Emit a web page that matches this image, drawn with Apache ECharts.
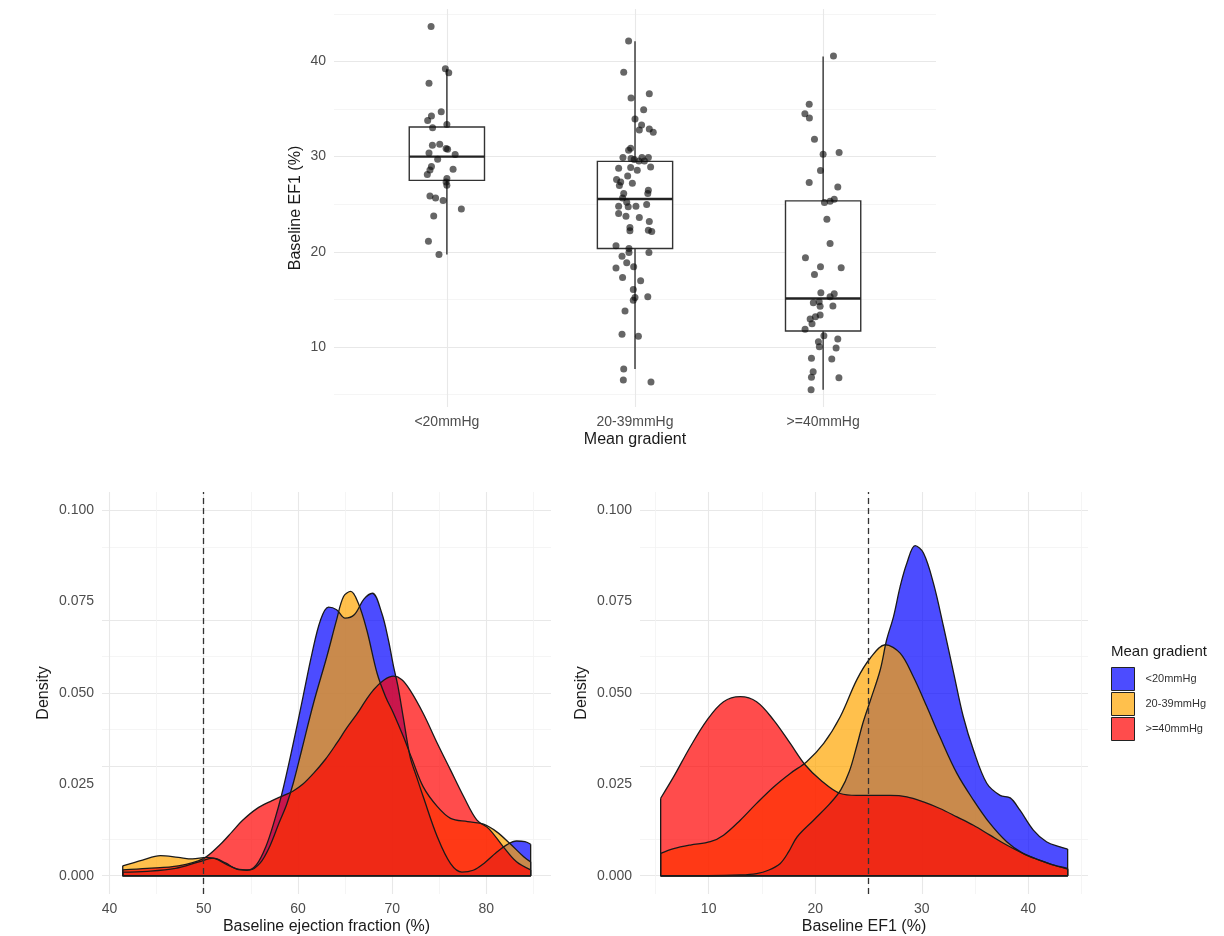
<!DOCTYPE html>
<html>
<head>
<meta charset="utf-8">
<title>Baseline EF by mean gradient</title>
<script src="https://cdn.jsdelivr.net/npm/echarts@6/dist/echarts.min.js"></script>
<style>
  html, body { margin: 0; padding: 0; background: #fff; }
  #chart { width: 1224px; height: 936px; }
</style>
</head>
<body>
<div id="chart"></div>
<script>
// ---- groups ----
const groupLabels = ['<20mmHg', '20-39mmHg', '>=40mmHg'];
const groupFills = ['rgba(0,0,255,0.7)', 'rgba(255,165,0,0.7)', 'rgba(255,0,0,0.7)'];

// ---- boxplot summary (Baseline EF1, %) ----
const whiskerLow  = [19.72, 7.7, 5.5];
const quart1      = [27.5, 20.35, 11.68];
const medians     = [30.0, 25.55, 15.1];
const quart3      = [33.1, 29.5, 25.35];
const whiskerHigh = [39.23, 42.1, 40.5];

// ---- individual patients: [jitter offset, EF1 %] ----
const ptsLow = [
  [-0.084, 43.67], [-0.008, 39.23], [0.010, 38.8], [-0.095, 37.7], [-0.030, 34.7],
  [-0.082, 34.26], [-0.102, 33.78], [0.000, 33.36], [-0.076, 33.04], [-0.077, 31.19],
  [-0.038, 31.29], [-0.004, 30.84], [0.004, 30.77], [-0.095, 30.38], [0.044, 30.21],
  [-0.049, 29.72], [-0.082, 28.95], [-0.090, 28.6], [0.033, 28.67], [-0.104, 28.11],
  [0.000, 27.7], [-0.004, 27.34], [0.000, 27.0], [-0.090, 25.87], [-0.060, 25.66],
  [-0.020, 25.39], [0.077, 24.5], [-0.070, 23.77], [-0.098, 21.12], [-0.042, 19.72]
];
const ptsMid = [
  [-0.034, 42.13], [-0.060, 38.85], [0.076, 36.61], [-0.021, 36.15], [0.046, 34.93],
  [0.000, 33.95], [0.035, 33.32], [0.023, 32.8], [0.076, 32.9], [0.097, 32.55],
  [-0.023, 30.87], [-0.034, 30.66], [-0.064, 29.9], [-0.021, 29.79], [-0.004, 29.69],
  [0.037, 29.9], [0.071, 29.9], [0.050, 29.54], [0.021, 29.54], [-0.087, 28.78],
  [-0.023, 28.85], [0.012, 28.57], [0.083, 28.91], [-0.039, 27.97], [-0.098, 27.59],
  [-0.076, 27.34], [-0.083, 26.96], [-0.014, 27.2], [0.071, 26.47], [0.068, 26.12],
  [-0.060, 26.12], [-0.066, 25.66], [-0.044, 25.21], [-0.087, 24.79], [-0.036, 24.72],
  [0.005, 24.79], [0.062, 24.97],
  [-0.087, 24.02], [-0.048, 23.74], [0.023, 23.6], [0.076, 23.18], [-0.027, 22.55],
  [-0.027, 22.2], [0.071, 22.27], [0.089, 22.13], [-0.101, 20.63], [-0.032, 20.35],
  [-0.032, 19.93], [0.074, 19.93], [-0.069, 19.54], [-0.044, 18.84], [-0.101, 18.29],
  [-0.007, 18.43], [-0.066, 17.31], [0.030, 16.96], [-0.009, 16.05], [0.000, 15.21],
  [-0.009, 14.9], [0.068, 15.28], [-0.053, 13.78], [-0.069, 11.33], [0.018, 11.12],
  [-0.060, 7.69], [-0.062, 6.54], [0.085, 6.33]
];
const ptsHigh = [
  [0.055, 40.56], [-0.074, 35.49], [-0.097, 34.51], [-0.073, 34.05], [-0.046, 31.82],
  [0.000, 30.24], [0.085, 30.42], [-0.014, 28.53], [-0.074, 27.27], [0.078, 26.81],
  [0.007, 25.17], [0.037, 25.31], [0.059, 25.52], [0.020, 23.43], [0.037, 20.88],
  [-0.094, 19.37], [-0.014, 18.43], [0.096, 18.32], [-0.046, 17.62], [-0.012, 15.7],
  [0.059, 15.59], [0.037, 15.28], [-0.052, 14.65], [-0.021, 14.76], [-0.016, 14.27],
  [0.052, 14.3], [-0.016, 13.36], [-0.041, 13.18], [-0.069, 12.94], [-0.059, 12.45],
  [-0.096, 11.86], [0.004, 11.19], [0.078, 10.84], [-0.025, 10.56], [-0.020, 10.04],
  [0.069, 9.9], [-0.062, 8.81], [0.046, 8.74], [-0.053, 7.41], [-0.062, 6.82],
  [0.084, 6.78], [-0.064, 5.52]
];

// ---- density estimates: Baseline ejection fraction (%) ----
const efLow = [
  [41.4, 0.001], [44, 0.0012], [47, 0.002], [49.5, 0.0038], [51, 0.0048], [52.3, 0.0035],
  [53.5, 0.0018], [54.6, 0.0015], [55.6, 0.003], [56.6, 0.008], [57.5, 0.015], [58.3, 0.0225],
  [59.35, 0.0344], [60.4, 0.0472], [61.5, 0.0609], [62.4, 0.070], [63.25, 0.0735], [64.1, 0.0728],
  [65.0, 0.0705], [66.0, 0.0715], [67.0, 0.0757], [67.9, 0.0773], [68.9, 0.0718], [69.6, 0.0645],
  [70.15, 0.0572], [70.6, 0.052], [71.2, 0.043], [71.9, 0.0326], [72.6, 0.027], [73.3, 0.0216],
  [74.8, 0.0106], [76.2, 0.0033], [77.4, 0.001], [78.6, 0.0015], [79.8, 0.0035], [81, 0.0062],
  [82.2, 0.0085], [83.2, 0.0095], [84.1, 0.0093], [84.7, 0.0086]
];
const efMid = [
  [41.4, 0.0027], [43.5, 0.0043], [45.4, 0.0055], [47.3, 0.005], [48.8, 0.0046], [50.3, 0.005],
  [51.3, 0.0046], [52.3, 0.0032], [53.5, 0.0019], [54.9, 0.0016], [56, 0.0035], [57, 0.008],
  [58, 0.0145], [58.8, 0.0195], [59.5, 0.0253], [60.4, 0.0344], [61.65, 0.0472], [63.07, 0.060],
  [64.1, 0.070], [64.84, 0.0764], [65.6, 0.0778], [66.4, 0.0746], [67.3, 0.0673], [68.4, 0.0554],
  [69.3, 0.049], [70.15, 0.0444], [71.2, 0.038], [72.1, 0.032], [73.3, 0.0243], [74.8, 0.0189],
  [76.2, 0.0157], [78, 0.0148], [79.7, 0.0141], [81.1, 0.012], [82.5, 0.0088], [83.96, 0.0052],
  [84.7, 0.0038]
];
const efHigh = [
  [41.4, 0.0016], [44, 0.002], [47.3, 0.0027], [49.9, 0.0046], [51.8, 0.0087], [53, 0.012],
  [54.1, 0.0151], [55.6, 0.0183], [57.2, 0.0205], [58.5, 0.022], [59.5, 0.0232], [60.5, 0.025],
  [61.65, 0.028], [62.9, 0.0318], [64.1, 0.0362], [65.2, 0.0405], [66.3, 0.0444], [67.2, 0.048],
  [68, 0.0508], [69.1, 0.0535], [70.15, 0.0546], [71, 0.0537], [71.9, 0.0508], [73.3, 0.0444],
  [74.8, 0.0362], [76.2, 0.0289], [77.6, 0.0216], [79, 0.0152], [80.25, 0.0129], [81.8, 0.0079],
  [83.2, 0.0038], [84.7, 0.0016]
];

// ---- density estimates: Baseline EF1 (%) ----
const ef1Low = [
  [5.5, 0.0], [10, 0.0], [13, 0.0002], [14.5, 0.0006], [15.6, 0.0015], [16.7, 0.0033],
  [17.5, 0.0065], [18.3, 0.0106], [19.85, 0.0152], [21.4, 0.0198], [22.4, 0.0235], [23.2, 0.0285],
  [23.9, 0.0355], [24.5, 0.042], [25.16, 0.0478], [26.1, 0.0563], [26.7, 0.0645], [27.35, 0.0709],
  [27.97, 0.0791], [28.6, 0.0855], [29.38, 0.0903], [30.16, 0.0883], [31.1, 0.080], [32.04, 0.0682],
  [33, 0.0554], [33.9, 0.0435], [34.85, 0.0344], [36.1, 0.0253], [37.35, 0.022], [38.3, 0.0213],
  [39.2, 0.018], [40.47, 0.0125], [41.7, 0.0093], [42.97, 0.0079], [43.69, 0.0073]
];
const ef1Mid = [
  [5.5, 0.0061], [6.72, 0.0074], [8.28, 0.0084], [10.16, 0.0093], [11.4, 0.0111], [12.97, 0.0152],
  [14.5, 0.0198], [16.1, 0.0243], [17.66, 0.028], [19.2, 0.0312], [20.8, 0.0362], [22.35, 0.0435],
  [23.9, 0.0536], [25.16, 0.0595], [26.57, 0.0632], [27.97, 0.0609], [29.2, 0.0545], [30.47, 0.0463],
  [31.7, 0.038], [33.3, 0.028], [34.85, 0.0207], [36.4, 0.0143], [37.97, 0.0093], [39.5, 0.0061],
  [41.1, 0.0042], [42.5, 0.0028], [43.69, 0.002]
];
const ef1High = [
  [5.5, 0.0212], [6.72, 0.0271], [8.28, 0.0353], [9.85, 0.0426], [11.4, 0.0476], [12.97, 0.049],
  [14.5, 0.0476], [16.1, 0.0426], [17.66, 0.0362], [19.07, 0.0303], [20.5, 0.0262], [22.35, 0.0225],
  [23.9, 0.022], [25.5, 0.022], [27.03, 0.022], [28.6, 0.0216], [30.16, 0.0202], [31.7, 0.0184],
  [33.3, 0.0161], [34.85, 0.0138], [36.4, 0.0111], [37.97, 0.0084], [39.5, 0.0061], [41.1, 0.0042],
  [42.5, 0.0028], [43.69, 0.0018]
];

// ---- reference cut-offs ----
const efCutoff = 50;
const ef1Cutoff = 25;

// ---- axis ticks / grid positions ----
const topTicksY = [10, 20, 30, 40];
const topMinorY = [5, 15, 25, 35, 45];
const topTicksX = [1, 2, 3];
const efTicks = [40, 50, 60, 70, 80];
const efMinor = [45, 55, 65, 75, 85];
const ef1Ticks = [10, 20, 30, 40];
const ef1Minor = [5, 15, 25, 35, 45];
const densTicks = [0, 0.025, 0.05, 0.075, 0.1];
const densMinor = [0.0125, 0.0375, 0.0625, 0.0875];

// ---------------------------------------------------------------
const FONT = "'Liberation Sans', Arial, sans-serif";
const TICK_COLOR = '#4d4d4d';
const TITLE_COLOR = '#1a1a1a';
const MAJOR = { color: '#e8e8e8', width: 1.1, type: 'solid' };
const MINOR = { color: '#f2f2f2', width: 0.8, type: 'solid' };
const OUTLINE = '#1a1a1a';
const OUTLINE_W = 1.3;
const BOX_WIDTH = 0.4;

function gridLines(axis, major, minor) {
  const items = [];
  major.forEach(v => items.push({ [axis]: v, lineStyle: MAJOR }));
  minor.forEach(v => items.push({ [axis]: v, lineStyle: MINOR }));
  return items;
}

// background panel lines, kept underneath every mark
function gridSeries(xi, yi, items) {
  return {
    type: 'line', xAxisIndex: xi, yAxisIndex: yi, data: [], z: 0, silent: true,
    markLine: { z: 0, silent: true, symbol: ['none', 'none'], label: { show: false },
      emphasis: { disabled: true }, animation: false, data: items }
  };
}

function valueAxis(gridIndex, min, max, ticks, fmt, extra) {
  return Object.assign({
    gridIndex, type: 'value', min, max,
    axisLine: { show: false }, axisTick: { show: false }, splitLine: { show: false },
    axisLabel: {
      customValues: ticks, color: TICK_COLOR, fontSize: 14, fontFamily: FONT,
      formatter: v => (ticks.some(t => Math.abs(t - v) < 1e-9) ? fmt(v) : '')
    },
    nameLocation: 'middle',
    nameTextStyle: { color: TITLE_COLOR, fontSize: 16, fontFamily: FONT }
  }, extra);
}

function densitySeries(name, pts, fill, xi, yi) {
  const first = pts[0], last = pts[pts.length - 1];
  return [
    {
      name, type: 'line', xAxisIndex: xi, yAxisIndex: yi, data: pts,
      smooth: 0.35, symbol: 'none', z: 2,
      itemStyle: { color: fill },
      lineStyle: { color: OUTLINE, width: OUTLINE_W },
      areaStyle: { color: fill, opacity: 1 }
    },
    {
      type: 'line', xAxisIndex: xi, yAxisIndex: yi, silent: true, symbol: 'none', z: 2,
      data: [[first[0], first[1]], [first[0], 0], [last[0], 0], [last[0], last[1]]],
      lineStyle: { color: OUTLINE, width: OUTLINE_W }
    }
  ];
}

function cutoffSeries(xi, yi, x) {
  return {
    type: 'line', xAxisIndex: xi, yAxisIndex: yi, data: [], z: 6, silent: true,
    markLine: { z: 6, silent: true, symbol: ['none', 'none'], label: { show: false }, animation: false,
      lineStyle: { color: '#333', width: 1.3, type: [6, 4] }, data: [{ xAxis: x }] }
  };
}

const boxData = groupLabels.map((_, i) =>
  [i + 1, whiskerLow[i], quart1[i], medians[i], quart3[i], whiskerHigh[i]]);

function renderBox(params, api) {
  const x = api.value(0);
  const lo = api.coord([x, api.value(1)]);
  const q1 = api.coord([x, api.value(2)]);
  const md = api.coord([x, api.value(3)]);
  const q3 = api.coord([x, api.value(4)]);
  const hi = api.coord([x, api.value(5)]);
  const w = api.size([BOX_WIDTH, 0])[0];
  const stroke = { stroke: '#333', lineWidth: 1.4, fill: null };
  return {
    type: 'group',
    children: [
      { type: 'line', shape: { x1: lo[0], y1: lo[1], x2: q1[0], y2: q1[1] }, style: stroke },
      { type: 'line', shape: { x1: q3[0], y1: q3[1], x2: hi[0], y2: hi[1] }, style: stroke },
      { type: 'rect', shape: { x: q3[0] - w / 2, y: q3[1], width: w, height: q1[1] - q3[1] },
        style: { fill: '#fff', stroke: '#333', lineWidth: 1.4 } },
      { type: 'line', shape: { x1: md[0] - w / 2, y1: md[1], x2: md[0] + w / 2, y2: md[1] },
        style: { stroke: '#222', lineWidth: 2.4 } }
    ]
  };
}

function jitterSeries(pts, groupIndex) {
  return {
    type: 'scatter', xAxisIndex: 0, yAxisIndex: 0, z: 4,
    data: pts.map(([dx, v]) => [groupIndex + 1 + dx, v]),
    symbolSize: 7,
    itemStyle: { color: 'rgba(10,10,10,0.78)' }
  };
}

const chart = echarts.init(document.getElementById('chart'), null, { renderer: 'canvas' });

const option = {
  animation: false,
  backgroundColor: '#ffffff',
  textStyle: { fontFamily: FONT },
  title: {
    text: 'Mean gradient', left: 1111, top: 644, padding: 0,
    textStyle: { fontSize: 15, fontWeight: 'normal', color: TITLE_COLOR, fontFamily: FONT }
  },
  legend: {
    orient: 'vertical', left: 1111, top: 667, padding: 0,
    itemWidth: 23, itemHeight: 23, itemGap: 1, icon: 'rect', selectedMode: false,
    textStyle: { fontSize: 11, color: '#333', fontFamily: FONT, padding: [0, 0, 0, 6] },
    data: groupLabels.map((name, i) => ({
      name, icon: 'rect',
      itemStyle: { color: groupFills[i], borderColor: '#222', borderWidth: 1 }
    }))
  },
  grid: [
    { left: 334, right: 288, top: 9, bottom: 529 },
    { left: 102, right: 673, top: 492, bottom: 42 },
    { left: 640, right: 136, top: 492, bottom: 42 }
  ],
  xAxis: [
    valueAxis(0, 0.4, 3.6, topTicksX, v => groupLabels[Math.round(v) - 1],
      { name: 'Mean gradient', nameGap: 25 }),
    valueAxis(1, 39.2, 86.86, efTicks, v => String(v),
      { name: 'Baseline ejection fraction (%)', nameGap: 25 }),
    valueAxis(2, 3.56, 45.6, ef1Ticks, v => String(v),
      { name: 'Baseline EF1 (%)', nameGap: 25 })
  ],
  yAxis: [
    valueAxis(0, 3.7, 45.5, topTicksY, v => String(v),
      { name: 'Baseline EF1 (%)', nameGap: 30, nameRotate: 90 }),
    valueAxis(1, -0.005, 0.105, densTicks, v => v.toFixed(3),
      { name: 'Density', nameGap: 50, nameRotate: 90 }),
    valueAxis(2, -0.005, 0.105, densTicks, v => v.toFixed(3),
      { name: 'Density', nameGap: 50, nameRotate: 90 })
  ],
  series: [
    // panel grid lines
    gridSeries(0, 0, gridLines('yAxis', topTicksY, topMinorY).concat(gridLines('xAxis', topTicksX, []))),
    gridSeries(1, 1, gridLines('yAxis', densTicks, densMinor).concat(gridLines('xAxis', efTicks, efMinor))),
    gridSeries(2, 2, gridLines('yAxis', densTicks, densMinor).concat(gridLines('xAxis', ef1Ticks, ef1Minor))),

    // boxplots with jittered patients
    {
      type: 'custom', xAxisIndex: 0, yAxisIndex: 0, z: 3, silent: true,
      data: boxData, encode: { x: 0, y: [1, 2, 3, 4, 5] }, renderItem: renderBox
    },
    jitterSeries(ptsLow, 0),
    jitterSeries(ptsMid, 1),
    jitterSeries(ptsHigh, 2),

    // density of baseline ejection fraction
    ...densitySeries(groupLabels[0], efLow, groupFills[0], 1, 1),
    ...densitySeries(groupLabels[1], efMid, groupFills[1], 1, 1),
    ...densitySeries(groupLabels[2], efHigh, groupFills[2], 1, 1),
    cutoffSeries(1, 1, efCutoff),

    // density of baseline EF1
    ...densitySeries(groupLabels[0], ef1Low, groupFills[0], 2, 2),
    ...densitySeries(groupLabels[1], ef1Mid, groupFills[1], 2, 2),
    ...densitySeries(groupLabels[2], ef1High, groupFills[2], 2, 2),
    cutoffSeries(2, 2, ef1Cutoff)
  ]
};

chart.setOption(option);
</script>
</body>
</html>
